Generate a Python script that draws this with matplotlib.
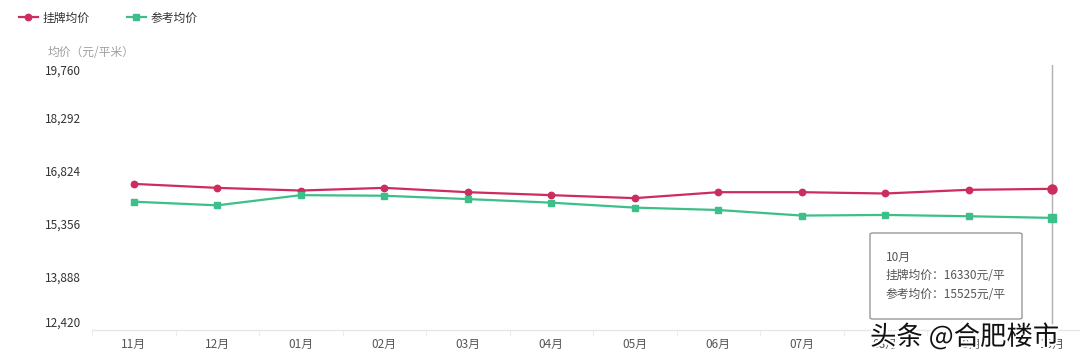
import matplotlib
matplotlib.use("Agg")
import matplotlib.pyplot as plt
from matplotlib.lines import Line2D
from matplotlib.patches import FancyBboxPatch
import matplotlib.patheffects as pe

plt.rcParams['font.family'] = ['Noto Sans CJK SC', 'DejaVu Sans']

months = ["11月", "12月", "01月", "02月", "03月", "04月", "05月", "06月", "07月", "08月", "09月", "10月"]
listing_price = [16467, 16357, 16283, 16357, 16237, 16155, 16072, 16237, 16237, 16201, 16303, 16330]
reference_price = [15974, 15873, 16155, 16139, 16046, 15947, 15810, 15744, 15590, 15607, 15571, 15525]
y_ticks = [12420, 13888, 15356, 16824, 18292, 19760]
series_names = ["挂牌均价", "参考均价"]

RED = "#cc2c5e"
GREEN = "#3dbf8a"

fig = plt.figure(figsize=(10.8, 3.64), dpi=100)
W, H = 1080, 364
left, right, top, bottom = 92, 1094, 65, 330
ax = fig.add_axes([left / W, 1 - bottom / H, (right - left) / W, (bottom - top) / H])

x = list(range(len(months)))
ax.plot(x, listing_price, color=RED, lw=1.6, marker='o', ms=4.6, zorder=3)
ax.plot(x, reference_price, color=GREEN, lw=1.6, marker='s', ms=4.4, zorder=3)
# highlighted last points
ax.plot([x[-1]], [listing_price[-1]], 'o', color=RED, ms=6.5, zorder=4)
ax.plot([x[-1]], [reference_price[-1]], 's', color=GREEN, ms=6.0, zorder=4)

ax.set_xlim(-0.5, len(months) - 0.5)
ax.set_ylim(y_ticks[0], y_ticks[-1])

# axis pointer
ax.axvline(x[-1], color="#b0b0b0", lw=1.0, zorder=2)

for s in ['top', 'right', 'left']:
    ax.spines[s].set_visible(False)
ax.spines['bottom'].set_color('#e6e6e6')
ax.spines['bottom'].set_linewidth(1.0)

ax.set_xticks([i - 0.5 for i in range(len(months) + 1)], minor=False)
ax.set_xticklabels([])
ax.set_xticks(x, minor=True)
ax.set_xticklabels(months, minor=True)
ax.tick_params(axis='x', which='major', length=4, color='#eeeeee', width=0.8)
ax.tick_params(axis='x', which='minor', length=0, pad=6, labelsize=8.5, labelcolor='#555555')

ax.set_yticks(y_ticks)
ax.set_yticklabels([f"{v:,}" for v in y_ticks])
ax.tick_params(axis='y', length=0, pad=8, labelsize=8.5, labelcolor='#333333')
ylabels = ax.get_yticklabels()
ylabels[0].set_verticalalignment('bottom')
ylabels[-1].set_verticalalignment('top')

# axis name
fig.text(48 / W, 1 - 53 / H, "均价（元/平米）", fontsize=8.5, color='#a0a0a0', va='center', ha='left')

# legend
handles = [
    Line2D([], [], color=RED, lw=1.6, marker='o', ms=4.6),
    Line2D([], [], color=GREEN, lw=1.6, marker='s', ms=4.4),
]
fig.legend(handles, series_names, loc='upper left', bbox_to_anchor=(8 / W, 1 - 1 / H), ncol=2,
           frameon=False, fontsize=8.5, handlelength=1.6, handletextpad=0.4, columnspacing=3.2,
           labelcolor='#333333')

# tooltip box
tx0, ty0, tx1, ty1 = 870, 233, 1022, 319
box = FancyBboxPatch((tx0 / W, 1 - ty1 / H), (tx1 - tx0) / W, (ty1 - ty0) / H,
                     boxstyle="round,pad=0,rounding_size=0.003", transform=fig.transFigure,
                     facecolor='white', edgecolor='#999999', lw=1.0, zorder=10)
fig.add_artist(box)
tip_lines = [months[-1],
             f"{series_names[0]}：{listing_price[-1]}元/平",
             f"{series_names[1]}：{reference_price[-1]}元/平"]
for i, t in enumerate(tip_lines):
    fig.text(886 / W, 1 - (257 + i * 18.5) / H, t, fontsize=8.5, color='#555555',
             va='center', ha='left', zorder=11)

# watermark
fig.text(870 / W, 1 - 337 / H, "头条 @合肥楼市", fontsize=19, color='#111111', va='center', ha='left',
         zorder=12, path_effects=[pe.withStroke(linewidth=3, foreground='white')])

fig.savefig("out.png", dpi=100)
